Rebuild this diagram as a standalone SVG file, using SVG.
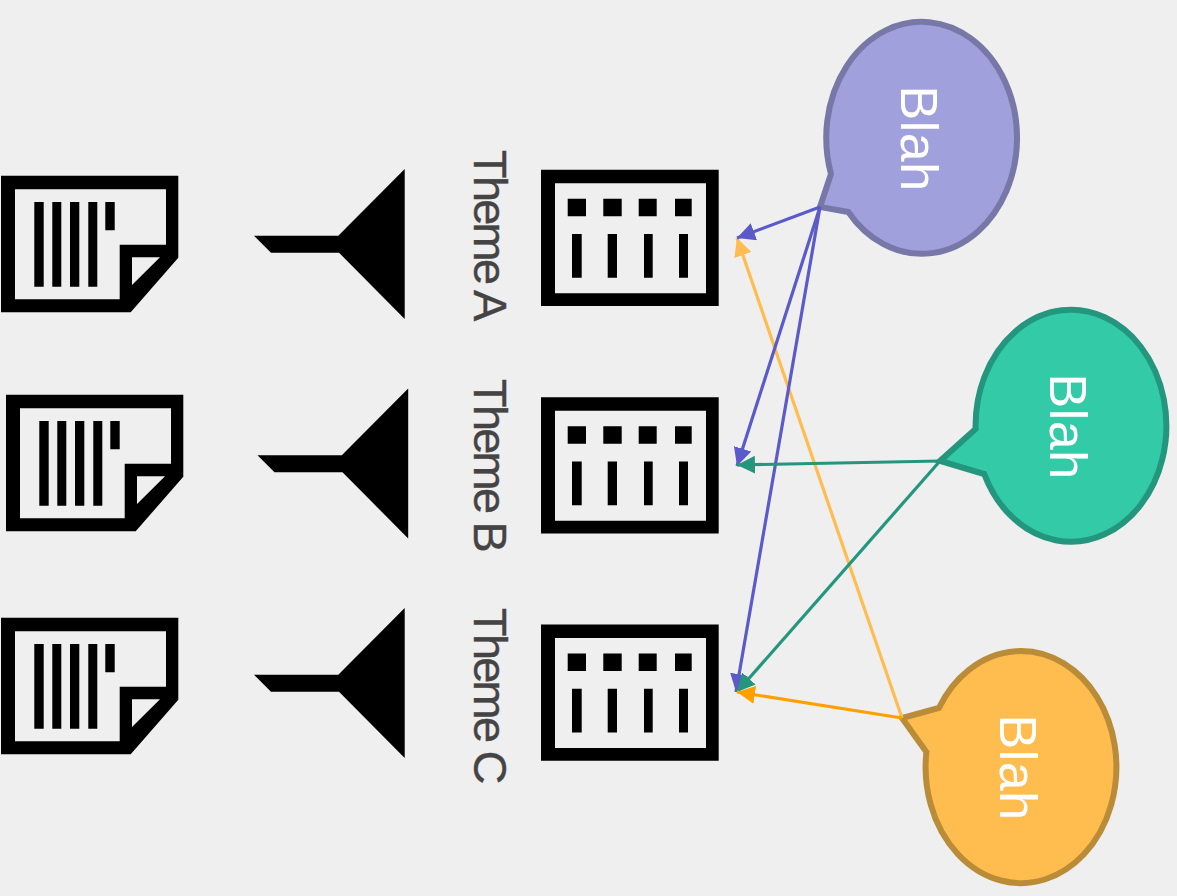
<svg xmlns="http://www.w3.org/2000/svg" width="1177" height="896" viewBox="0 0 1177 896">
<style>
.bg{fill:#efefef}
.ic{fill:#000;fill-rule:evenodd}
.th{font:47px "Liberation Sans",Arial,sans-serif;fill:#444;letter-spacing:-2.8px;stroke:#444;stroke-width:.4}
.bl{font:52px "Liberation Sans",Arial,sans-serif;fill:#fff;text-anchor:middle;letter-spacing:.5px}
.c{fill:none;stroke-width:3.2}
.p{stroke:#5a5ac8}.g{stroke:#24967e}.o{stroke:#ffbc50}.d{stroke:#ff9f00}
.bu{stroke-width:6}
</style>
<defs>
<marker id="mp" markerUnits="userSpaceOnUse" markerWidth="20" markerHeight="20" refX="18" refY="9" orient="auto"><path d="M0 0L18 9L0 18Z" fill="#5a5ac8"/></marker>
<marker id="mg" markerUnits="userSpaceOnUse" markerWidth="20" markerHeight="20" refX="18" refY="9" orient="auto"><path d="M0 0L18 9L0 18Z" fill="#24967e"/></marker>
<marker id="mo" markerUnits="userSpaceOnUse" markerWidth="20" markerHeight="20" refX="18" refY="9" orient="auto"><path d="M0 0L18 9L0 18Z" fill="#ffbc50"/></marker>
<marker id="md" markerUnits="userSpaceOnUse" markerWidth="20" markerHeight="20" refX="18" refY="9" orient="auto"><path d="M0 0L18 9L0 18Z" fill="#ff9f00"/></marker>
<g id="doc"><path class="ic" d="M1 175.7H178.300V257.700L130.700 312.300H1ZM15 189.300V299.300H119.700V244.700H166V189.300ZM132 257.300V285L160 257.300Z"/><path class="ic" d="M34.300 202h9.400v84.700h-9.400zM52.300 202h9v84.700h-9zM70 202h9.300v84.700H70zM88.300 202h9v84.700h-9zM105.300 202h9.400v28.300h-9.400z"/></g>
<path id="fun" class="ic" d="M254 235.700H338.300L404.700 169V319L339 252.700H271Z"/>
<g id="tab"><path class="ic" d="M541 169.700H718.700V306H541ZM555 183.300V293.300H706V183.300Z"/><path class="ic" d="M567.700 198.700H586V216.300H567.700zM603.300 198.700H621.700V216.300H603.300zM638.700 198.700H656.700V216.300H638.700zM675 198.700H691.700V216.300H675zM572 234h9.700v43.700H572zM607.700 234H617v43.700h-9.300zM644 234h8.700v43.700H644zM679 234h9v43.700H679z"/></g>
</defs>
<rect class="bg" width="1177" height="896"/>
<g id="theme-a"><use href="#doc"/><use href="#fun"/><text class="th" transform="translate(474 150) rotate(90)">Theme A</text><use href="#tab"/></g>
<g id="theme-b"><use href="#doc" x="5" y="219"/><use href="#fun" x="3.500" y="219.500"/><text class="th" transform="translate(474 379) rotate(90)">Theme B</text><use href="#tab" y="227.500"/></g>
<g id="theme-c"><use href="#doc" y="442"/><use href="#fun" y="439"/><text class="th" transform="translate(474 608) rotate(90)">Theme C</text><use href="#tab" y="454.700"/></g>
<g id="bubble-purple"><path class="bu" d="M831 174A95.400 116 0 1 1 848.300 212L820 207Z" fill="#a0a0dc" stroke="#7878a8"/><text class="bl" transform="translate(901 138.500) rotate(90)">Blah</text></g>
<g id="bubble-green"><path class="bu" d="M975.600 429A95.400 116 0 1 1 984.200 474L940 461Z" fill="#33caa8" stroke="#24967e"/><text class="bl" transform="translate(1050 426.500) rotate(90)">Blah</text></g>
<g id="bubble-orange"><path class="bu" d="M938.900 708A95.400 116 0 1 1 926.400 752L902 718Z" fill="#ffbc4f" stroke="#ba8c38"/><text class="bl" transform="translate(1000 767.500) rotate(90)">Blah</text></g>
<g id="connectors">
<path class="c o" d="M902 718L737 238" marker-end="url(#mo)"/>
<path class="c p" d="M820 207L737 238" marker-end="url(#mp)"/>
<path class="c p" d="M820 207L737 466" marker-end="url(#mp)"/>
<path class="c p" d="M820 207L736 692" marker-end="url(#mp)"/>
<path class="c g" d="M940 461L737 465" marker-end="url(#mg)"/>
<path class="c g" d="M940 461L737 692" marker-end="url(#mg)"/>
<path class="c d" d="M902 718L737 692" marker-end="url(#md)"/>
</g>
</svg>
